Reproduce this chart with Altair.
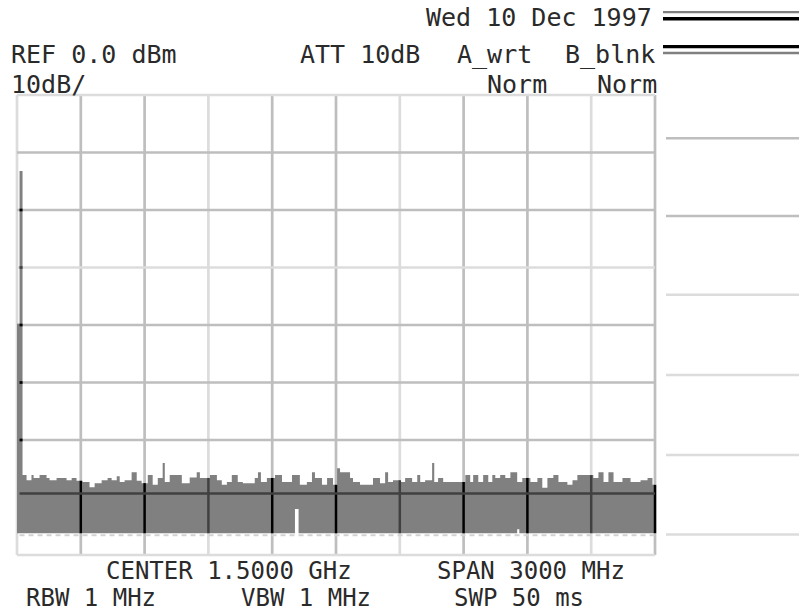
import altair as alt
import pandas as pd

# Graticule: 10 divisions of 300 MHz, 8 divisions of 10 dB
grid_mhz = [0, 300, 600, 900, 1200, 1500, 1800, 2100, 2400, 2700, 3000]
grid_dbm = [0, -10, -20, -30, -40, -50, -60, -70, -80]
faint_mhz = [0, 900, 1800, 2700]
faint_dbm = [0, -30, -80]

# Trace: start frequency (MHz) of each step and its peak level (dBm)
seg_mhz = [
    0, 12, 26, 45, 68, 78, 106, 139, 153, 186,
    233, 257, 280, 308, 341, 365, 398, 426, 445, 469,
    483, 506, 539, 563, 586, 615, 638, 662, 685, 695,
    718, 775, 812, 845, 860, 907, 940, 963, 987, 1010,
    1038, 1062, 1118, 1133, 1147, 1175, 1213, 1246, 1293, 1307,
    1324, 1330, 1363, 1387, 1401, 1434, 1458, 1486, 1505, 1519,
    1566, 1580, 1613, 1674, 1707, 1731, 1745, 1768, 1801, 1825,
    1858, 1882, 1896, 1919, 1952, 1962, 1980, 2004, 2108, 2131,
    2145, 2169, 2192, 2216, 2235, 2249, 2272, 2296, 2320, 2352,
    2362, 2376, 2414, 2447, 2470, 2494, 2522, 2546, 2588, 2612,
    2635, 2710, 2734, 2758, 2781, 2805, 2847, 2885, 2932, 2965,
    2988,
]
seg_top = [
    -39.8, -13.2, -66.1, -67.0, -66.1, -66.6, -66.1, -66.6, -67.0, -66.6,
    -67.0, -66.6, -67.1, -67.3, -68.2, -67.5, -67.0, -66.6, -67.0, -66.3,
    -67.3, -67.0, -65.6, -67.1, -67.5, -66.1, -67.8, -66.6, -64.0, -67.3,
    -66.1, -67.5, -66.5, -65.6, -66.6, -66.1, -67.0, -67.8, -67.3, -66.1,
    -67.3, -67.5, -66.6, -65.6, -67.3, -66.6, -66.1, -67.3, -66.1, -66.1,
    -66.1, -67.8, -67.3, -65.6, -66.6, -67.8, -66.6, -67.8, -64.9, -65.6,
    -66.6, -67.3, -67.8, -66.6, -67.5, -65.6, -67.3, -67.0, -67.3, -66.6,
    -67.3, -66.1, -67.3, -67.0, -64.0, -67.3, -66.6, -67.3, -66.1, -67.3,
    -66.1, -67.3, -66.1, -67.3, -66.1, -66.6, -66.1, -66.6, -65.6, -67.3,
    -67.3, -66.6, -67.3, -66.6, -68.3, -66.6, -66.1, -67.3, -67.8, -67.0,
    -66.1, -66.6, -65.6, -67.3, -65.6, -67.3, -66.6, -67.3, -67.0, -66.6,
    -67.8,
]
assert len(seg_mhz) == len(seg_top)

floor_dbm = -76.2
raised_floor_mhz = [1307, 2352]
raised_floor_dbm = [-72.0, -75.5]
mid_line_dbm = -69.3
span_mhz = 3000

# Annotation text
date_text = "Wed 10 Dec 1997"
ref_text = "REF 0.0 dBm"
scale_text = "10dB/"
att_text = "ATT 10dB"
trace_a_text = "A_wrt"
trace_b_text = "B_blnk"
mode_text = "Norm"
center_text = "CENTER 1.5000 GHz"
span_text = "SPAN 3000 MHz"
rbw_text = "RBW 1 MHz"
vbw_text = "VBW 1 MHz"
swp_text = "SWP 50 ms"

# ---------------------------------------------------------------- tables
raised = dict(zip(raised_floor_mhz, raised_floor_dbm))
floors = [raised.get(s, floor_dbm) for s in seg_mhz]

# step trace: one point per step plus a closing point at the span end
trace = pd.DataFrame({
    "f": seg_mhz + [span_mhz],
    "top": seg_top + [seg_top[-1]],
    "floor": floors + [floors[-1]],
})


def step_index(f):
    idx = 0
    for i, s in enumerate(seg_mhz):
        if s <= f:
            idx = i
    return idx


LIGHT, FAINT_LIGHT = "#bebebe", "#dcdcdc"
DARK, FAINT_DARK = "#000000", "#404040"

grid_v = pd.DataFrame({
    "f": grid_mhz,
    "c": [FAINT_LIGHT if f in faint_mhz else LIGHT for f in grid_mhz],
})
grid_h = pd.DataFrame({
    "d": grid_dbm,
    "c": [FAINT_LIGHT if d in faint_dbm else LIGHT for d in grid_dbm],
})

# graticule lines drawn over the trace fill appear dark
over_v = []
for f in grid_mhz[1:]:
    i = step_index(f)
    over_v.append({
        "f": f,
        "top": seg_top[i],
        "floor": floors[i],
        "c": FAINT_DARK if f in faint_mhz else DARK,
    })
over_v = pd.DataFrame(over_v)

over_h = []
for i, s in enumerate(seg_mhz):
    if seg_top[i] > -30:
        for d in grid_dbm:
            if floors[i] < d < seg_top[i] and d > -70:
                over_h.append({"f0": s, "f1": seg_mhz[i + 1], "d": d,
                               "c": FAINT_DARK if d in faint_dbm else DARK})
over_h = pd.DataFrame(over_h)

xs = alt.Scale(domain=[0, span_mhz], nice=False, zero=False)
ys = alt.Scale(domain=[-80, 0], nice=False, zero=False)

# ---------------------------------------------------------------- layers
gridv_layer = alt.Chart(grid_v).mark_rule(strokeWidth=2.7).encode(
    x=alt.X("f:Q", scale=xs, axis=None),
    color=alt.Color("c:N", scale=None),
)
gridh_layer = alt.Chart(grid_h).mark_rule(strokeWidth=2.7).encode(
    y=alt.Y("d:Q", scale=ys, axis=None),
    color=alt.Color("c:N", scale=None),
)

floor_edge = alt.Chart(pd.DataFrame({"f0": [seg_mhz[1]], "f1": [span_mhz],
                                     "d": [floor_dbm - 0.35]})).mark_rule(
    color="#d2d2d2", strokeWidth=2, strokeDash=[5, 4]
).encode(
    x=alt.X("f0:Q", scale=xs, axis=None), x2="f1:Q",
    y=alt.Y("d:Q", scale=ys, axis=None),
)

trace_layer = alt.Chart(trace).mark_area(
    color="#808080", interpolate="step-after", orient="vertical"
).encode(
    x=alt.X("f:Q", scale=xs, axis=None),
    y=alt.Y("top:Q", scale=ys, axis=None),
    y2=alt.Y2("floor:Q"),
)

overv_layer = alt.Chart(over_v).mark_rule(strokeWidth=2.5).encode(
    x=alt.X("f:Q", scale=xs, axis=None),
    y=alt.Y("top:Q", scale=ys, axis=None), y2="floor:Q",
    color=alt.Color("c:N", scale=None),
)
overh_layer = alt.Chart(over_h).mark_rule(strokeWidth=2.7).encode(
    x=alt.X("f0:Q", scale=xs, axis=None), x2="f1:Q",
    y=alt.Y("d:Q", scale=ys, axis=None),
    color=alt.Color("c:N", scale=None),
)
mid_layer = alt.Chart(pd.DataFrame({"f0": [seg_mhz[1]], "f1": [span_mhz],
                                    "d": [mid_line_dbm]})).mark_rule(
    color=FAINT_DARK, strokeWidth=2.7
).encode(
    x=alt.X("f0:Q", scale=xs, axis=None), x2="f1:Q",
    y=alt.Y("d:Q", scale=ys, axis=None),
)

one = pd.DataFrame({"k": [0]})


def label(text, px, py, size=25):
    return alt.Chart(pd.DataFrame({"t": [text]})).mark_text(
        font="DejaVu Sans Mono", fontSize=size, color="#2a2a2a",
        align="left", baseline="alphabetic",
    ).encode(text="t:N", x=alt.value(px), y=alt.value(py))


def bar(y, color, width, x0=646, x1=782):
    return alt.Chart(one).mark_rule(color=color, strokeWidth=width).encode(
        x=alt.value(x0), x2=alt.value(x1), y=alt.value(y))


texts = [
    label(date_text, 409, -69),
    label(ref_text, -6, -32),
    label(att_text, 283, -32),
    label(trace_a_text, 440, -32),
    label(trace_b_text, 548, -32),
    label(scale_text, -6, -2),
    label(mode_text, 470, -2),
    label(mode_text, 580, -2),
    label(center_text, 89, 484, 24),
    label(span_text, 420, 484, 24),
    label(rbw_text, 9, 511, 24),
    label(vbw_text, 224, 511, 24),
    label(swp_text, 437, 511, 24),
]

# softkey frame at the right of the screen
keys = [
    bar(-82.8, "#808080", 2.3),
    bar(-76.3, "#000000", 3.6),
    bar(-48.3, "#000000", 3.3),
    bar(-42.0, "#808080", 2.6),
    bar(43.3, LIGHT, 2.5, 649),
    bar(121.0, LIGHT, 2.5, 649),
    bar(199.7, FAINT_LIGHT, 2.5, 649),
    bar(280.0, FAINT_LIGHT, 2.5, 649),
    bar(360.0, FAINT_LIGHT, 2.5, 649),
    bar(439.5, FAINT_LIGHT, 2.5, 649),
]

chart = alt.layer(
    gridv_layer, gridh_layer, floor_edge, trace_layer,
    overv_layer, overh_layer, mid_layer, *texts, *keys,
).properties(
    width=638,
    height=460,
    padding={"left": 17, "top": 95, "right": 144, "bottom": 56},
    autosize=alt.AutoSizeParams(type="none"),
    background="white",
).configure_view(stroke=None)

chart.save("out.html", embed_options={"renderer": "svg", "actions": False})
